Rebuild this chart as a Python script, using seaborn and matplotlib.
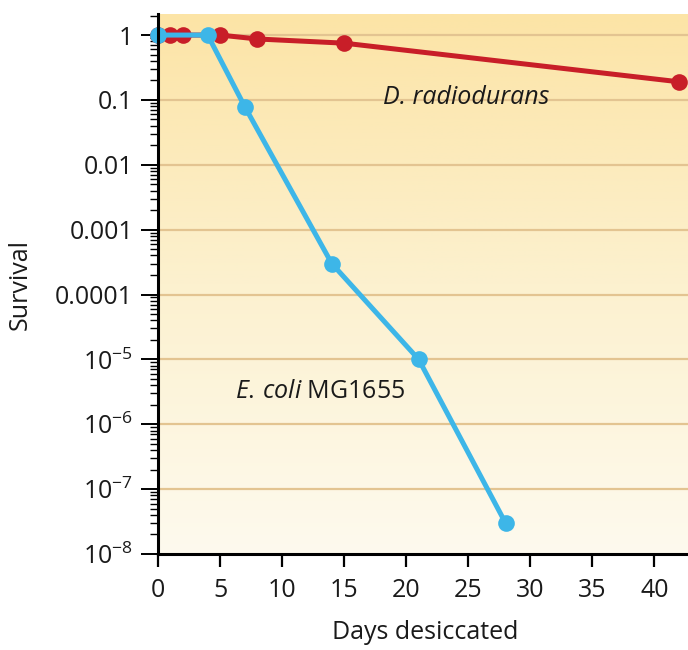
import numpy as np
import pandas as pd
import matplotlib
matplotlib.use("Agg")
import matplotlib.pyplot as plt
from matplotlib.colors import LinearSegmentedColormap
from matplotlib.ticker import FixedLocator, FixedFormatter, LogLocator, NullFormatter
import seaborn as sns

# Survival after desiccation
ecoli_days = [0, 4, 7, 14, 21, 28]
ecoli_survival = [1.0, 1.0, 0.078, 3e-4, 1e-5, 3e-8]

drad_days = [0, 1, 2, 5, 8, 15, 42]
drad_survival = [1.0, 1.0, 1.0, 1.0, 0.87, 0.75, 0.19]

y_ticks = [1, 0.1, 0.01, 0.001, 1e-4, 1e-5, 1e-6, 1e-7, 1e-8]
y_tick_labels = ["1", "0.1", "0.01", "0.001", "0.0001",
                 r"$10^{-5}$", r"$10^{-6}$", r"$10^{-7}$", r"$10^{-8}$"]
x_ticks = [0, 5, 10, 15, 20, 25, 30, 35, 40]

sns.set_theme(style="white")
plt.rcParams["font.family"] = ["Open Sans", "DejaVu Sans"]
plt.rcParams["mathtext.fontset"] = "custom"
plt.rcParams["mathtext.rm"] = "Open Sans"
plt.rcParams["mathtext.it"] = "Open Sans:italic"

RED = "#C81E28"
BLUE = "#3DB6E8"
GRID = "#E3C491"
TEXT = "#1a1a1a"
FS = 18

fig = plt.figure(figsize=(6.88, 6.50), dpi=100)
ax = fig.add_axes([0.2297, 0.1477, 0.7703, 0.8303])

# warm vertical gradient behind the plot
grad = LinearSegmentedColormap.from_list("bg", ["#FEFAEE", "#FCF1CF", "#FCE4A6"])
ax.imshow(np.linspace(0, 1, 256).reshape(-1, 1), cmap=grad, aspect="auto",
          origin="lower", extent=[0, 1, 0, 1], transform=ax.transAxes, zorder=0)

ax.set_yscale("log")
ax.set_xlim(0, 42.7)
ax.set_ylim(1e-8, 10 ** 0.32)

for yv in y_ticks[:-1]:
    ax.axhline(yv, color=GRID, lw=1.6, zorder=1)

df_d = pd.DataFrame({"day": drad_days, "survival": drad_survival})
df_e = pd.DataFrame({"day": ecoli_days, "survival": ecoli_survival})

sns.lineplot(data=df_d, x="day", y="survival", ax=ax, color=RED, lw=3.6,
             marker="o", markersize=12, markeredgewidth=0, zorder=3, clip_on=False)
sns.lineplot(data=df_e, x="day", y="survival", ax=ax, color=BLUE, lw=3.6,
             marker="o", markersize=12, markeredgewidth=0, zorder=4, clip_on=False)

ax.yaxis.set_major_locator(FixedLocator(y_ticks))
ax.yaxis.set_major_formatter(FixedFormatter(y_tick_labels))
ax.yaxis.set_minor_locator(LogLocator(base=10, subs=np.arange(2, 10), numticks=20))
ax.yaxis.set_minor_formatter(NullFormatter())
ax.set_xticks(x_ticks)

for side in ("top", "right"):
    ax.spines[side].set_visible(False)
for side in ("left", "bottom"):
    ax.spines[side].set_color("black")
    ax.spines[side].set_linewidth(2.2)
    ax.spines[side].set_zorder(5)

ax.tick_params(axis="y", which="major", direction="out", length=12, width=1.4,
               color="black", labelsize=FS, labelcolor=TEXT, pad=6, left=True)
ax.tick_params(axis="y", which="minor", direction="out", length=6, width=1.0,
               color="black", left=True)
ax.tick_params(axis="x", which="major", direction="out", length=9, width=1.6,
               color="black", labelsize=FS, labelcolor=TEXT, pad=8, bottom=True)

ax.set_xlabel("Days desiccated", fontsize=FS, color=TEXT)
ax.set_ylabel("Survival", fontsize=FS, color=TEXT)
ax.xaxis.set_label_coords(0.505, -0.122)
ax.yaxis.set_label_coords(-0.236, 0.5)
ax.grid(False)

ax.text(18.1, 0.11, "D. radiodurans", fontsize=FS, style="italic",
        color=TEXT, va="center", ha="left", zorder=6)
ax.text(6.2, 10 ** -5.5, r"$\mathit{E.\,coli}$ MG1655", fontsize=FS,
        color=TEXT, va="center", ha="left", zorder=6)

fig.savefig("out.png", dpi=100)
